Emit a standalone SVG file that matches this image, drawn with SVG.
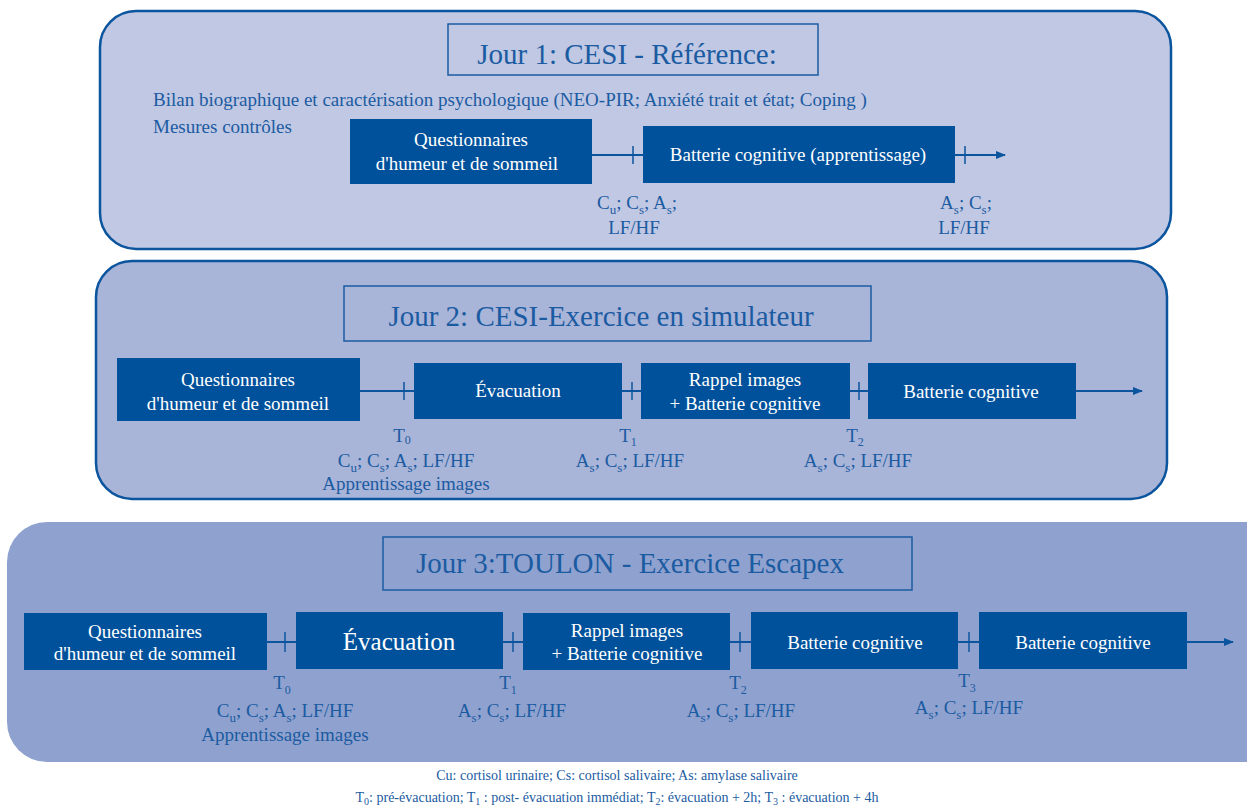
<svg xmlns="http://www.w3.org/2000/svg" width="1247" height="806" viewBox="0 0 1247 806" font-family="Liberation Serif, Times New Roman, serif">
<defs>
<marker id="arr" markerWidth="10" markerHeight="8" refX="9" refY="4" orient="auto" markerUnits="userSpaceOnUse">
<path d="M0,0 L10,4 L0,8 Z" fill="#0b549e"/>
</marker>
</defs>
<rect width="1247" height="806" fill="#ffffff"/>

<g id="panel1" fill="#1b5ba2" font-size="19">
<rect x="100" y="11" width="1071" height="238" rx="36" fill="#c1c8e3" stroke="#0b549e" stroke-width="2.5"/>
<rect x="448" y="24" width="370" height="51" fill="none" stroke="#1b5ba2" stroke-width="1.5"/>
<text x="627" y="64" font-size="29" text-anchor="middle" font-family="serif">Jour 1: CESI - Référence:</text>
<text x="153" y="106" font-family="serif">Bilan biographique et caractérisation psychologique (NEO-PIR; Anxiété trait et état; Coping )</text>
<text x="153" y="133" font-family="serif">Mesures contrôles</text>
</g>
<g id="panel2" fill="#1b5ba2">
<rect x="96" y="261" width="1071" height="238" rx="36" fill="#a8b4d8" stroke="#0b549e" stroke-width="2.5"/>
<rect x="344" y="286" width="527" height="55" fill="none" stroke="#1b5ba2" stroke-width="1.5"/>
<text x="601" y="326" font-size="29" text-anchor="middle" font-family="serif">Jour 2: CESI-Exercice en simulateur</text>
</g>
<g id="panel3" fill="#1b5ba2">
<rect x="7" y="522" width="1280" height="240" rx="40" fill="#8fa2cf"/>
<rect x="383" y="537" width="529" height="53" fill="none" stroke="#1b5ba2" stroke-width="1.5"/>
<text x="630" y="573" font-size="29" text-anchor="middle" font-family="serif">Jour 3:TOULON - Exercice Escapex</text>
</g>

<g id="connectors" stroke="#0b549e" fill="none">
<g stroke-width="2">
<line x1="592" y1="155" x2="643" y2="155"/>
<line x1="955" y1="155" x2="1005" y2="155" marker-end="url(#arr)"/>
<line x1="360" y1="391" x2="414" y2="391"/>
<line x1="622" y1="391" x2="641" y2="391"/>
<line x1="850" y1="391" x2="868" y2="391"/>
<line x1="1076" y1="391" x2="1142" y2="391" marker-end="url(#arr)"/>
<line x1="267" y1="642" x2="296" y2="642"/>
<line x1="503" y1="642" x2="523" y2="642"/>
<line x1="730" y1="642" x2="751" y2="642"/>
<line x1="958" y1="642" x2="979" y2="642"/>
<line x1="1187" y1="642" x2="1233" y2="642" marker-end="url(#arr)"/>
</g>
<g stroke-width="1.5">
<line x1="633" y1="146" x2="633" y2="164"/>
<line x1="965" y1="146" x2="965" y2="164"/>
<line x1="404" y1="382" x2="404" y2="400"/>
<line x1="632" y1="382" x2="632" y2="400"/>
<line x1="859" y1="382" x2="859" y2="400"/>
<line x1="285" y1="632" x2="285" y2="652"/>
<line x1="513" y1="632" x2="513" y2="652"/>
<line x1="740" y1="632" x2="740" y2="652"/>
<line x1="969" y1="632" x2="969" y2="652"/>
</g>
</g>

<g id="d1-questionnaires" fill="#ffffff" font-size="19" text-anchor="middle">
<rect x="350" y="119" width="242" height="65" fill="#00519b"/>
<text x="471" y="146" font-family="serif">Questionnaires</text>
<text x="467" y="170" font-family="serif">d'humeur et de sommeil</text>
</g>
<g id="d1-batterie" fill="#ffffff" font-size="19" text-anchor="middle">
<rect x="643" y="126" width="312" height="57" fill="#00519b"/>
<text x="798" y="161" font-family="serif">Batterie cognitive (apprentissage)</text>
</g>
<g id="d1-labels" fill="#1b5ba2" font-size="19" text-anchor="middle">
<text x="637" y="209" font-family="serif">C<tspan font-size="13" dy="5">u</tspan><tspan dy="-5">; C</tspan><tspan font-size="13" dy="5">s</tspan><tspan dy="-5">; A</tspan><tspan font-size="13" dy="5">s</tspan><tspan dy="-5">;</tspan></text>
<text x="634" y="234" font-family="serif">LF/HF</text>
<text x="966" y="209" font-family="serif">A<tspan font-size="13" dy="5">s</tspan><tspan dy="-5">; C</tspan><tspan font-size="13" dy="5">s</tspan><tspan dy="-5">;</tspan></text>
<text x="964" y="234" font-family="serif">LF/HF</text>
</g>

<g id="d2-questionnaires" fill="#ffffff" font-size="19" text-anchor="middle">
<rect x="117" y="358" width="243" height="63" fill="#00519b"/>
<text x="238" y="386" font-family="serif">Questionnaires</text>
<text x="238" y="410" font-family="serif">d'humeur et de sommeil</text>
</g>
<g id="d2-evacuation" fill="#ffffff" font-size="19" text-anchor="middle">
<rect x="414" y="363" width="208" height="56" fill="#00519b"/>
<text x="518" y="397" font-family="serif">Évacuation</text>
</g>
<g id="d2-rappel" fill="#ffffff" font-size="19" text-anchor="middle">
<rect x="641" y="363" width="209" height="56" fill="#00519b"/>
<text x="745" y="386" font-family="serif">Rappel images</text>
<text x="745" y="410" font-family="serif">+ Batterie cognitive</text>
</g>
<g id="d2-batterie" fill="#ffffff" font-size="19" text-anchor="middle">
<rect x="868" y="363" width="208" height="56" fill="#00519b"/>
<text x="971" y="398" font-family="serif">Batterie cognitive</text>
</g>
<g id="d2-labels" fill="#1b5ba2" font-size="19" text-anchor="middle">
<text x="402" y="442" font-family="serif">T<tspan font-size="12" dy="2">0</tspan></text>
<text x="406" y="467" font-family="serif">C<tspan font-size="13" dy="5">u</tspan><tspan dy="-5">; C</tspan><tspan font-size="13" dy="5">s</tspan><tspan dy="-5">; A</tspan><tspan font-size="13" dy="5">s</tspan><tspan dy="-5">; LF/HF</tspan></text>
<text x="406" y="490" font-family="serif">Apprentissage images</text>
<text x="628" y="442" font-family="serif">T<tspan font-size="12" dy="4">1</tspan></text>
<text x="630" y="467" font-family="serif">A<tspan font-size="13" dy="5">s</tspan><tspan dy="-5">; C</tspan><tspan font-size="13" dy="5">s</tspan><tspan dy="-5">; LF/HF</tspan></text>
<text x="855" y="442" font-family="serif">T<tspan font-size="12" dy="4">2</tspan></text>
<text x="858" y="467" font-family="serif">A<tspan font-size="13" dy="5">s</tspan><tspan dy="-5">; C</tspan><tspan font-size="13" dy="5">s</tspan><tspan dy="-5">; LF/HF</tspan></text>
</g>

<g id="d3-questionnaires" fill="#ffffff" font-size="19" text-anchor="middle">
<rect x="24" y="613" width="243" height="57" fill="#00519b"/>
<text x="145" y="638" font-family="serif">Questionnaires</text>
<text x="145" y="660" font-family="serif">d'humeur et de sommeil</text>
</g>
<g id="d3-evacuation" fill="#ffffff" font-size="25" text-anchor="middle">
<rect x="296" y="612" width="207" height="57" fill="#00519b"/>
<text x="399" y="650" font-family="serif">Évacuation</text>
</g>
<g id="d3-rappel" fill="#ffffff" font-size="19" text-anchor="middle">
<rect x="523" y="613" width="207" height="57" fill="#00519b"/>
<text x="627" y="637" font-family="serif">Rappel images</text>
<text x="627" y="660" font-family="serif">+ Batterie cognitive</text>
</g>
<g id="d3-batterie1" fill="#ffffff" font-size="19" text-anchor="middle">
<rect x="751" y="612" width="207" height="57" fill="#00519b"/>
<text x="855" y="649" font-family="serif">Batterie cognitive</text>
</g>
<g id="d3-batterie2" fill="#ffffff" font-size="19" text-anchor="middle">
<rect x="979" y="612" width="208" height="57" fill="#00519b"/>
<text x="1083" y="649" font-family="serif">Batterie cognitive</text>
</g>
<g id="d3-labels" fill="#1b5ba2" font-size="19" text-anchor="middle">
<text x="282" y="689" font-family="serif">T<tspan font-size="12" dy="5">0</tspan></text>
<text x="285" y="717" font-family="serif">C<tspan font-size="13" dy="5">u</tspan><tspan dy="-5">; C</tspan><tspan font-size="13" dy="5">s</tspan><tspan dy="-5">; A</tspan><tspan font-size="13" dy="5">s</tspan><tspan dy="-5">; LF/HF</tspan></text>
<text x="285" y="741" font-family="serif">Apprentissage images</text>
<text x="508" y="689" font-family="serif">T<tspan font-size="12" dy="5">1</tspan></text>
<text x="512" y="717" font-family="serif">A<tspan font-size="13" dy="5">s</tspan><tspan dy="-5">; C</tspan><tspan font-size="13" dy="5">s</tspan><tspan dy="-5">; LF/HF</tspan></text>
<text x="738" y="689" font-family="serif">T<tspan font-size="12" dy="5">2</tspan></text>
<text x="741" y="717" font-family="serif">A<tspan font-size="13" dy="5">s</tspan><tspan dy="-5">; C</tspan><tspan font-size="13" dy="5">s</tspan><tspan dy="-5">; LF/HF</tspan></text>
<text x="967" y="687" font-family="serif">T<tspan font-size="12" dy="5">3</tspan></text>
<text x="969" y="714" font-family="serif">A<tspan font-size="13" dy="5">s</tspan><tspan dy="-5">; C</tspan><tspan font-size="13" dy="5">s</tspan><tspan dy="-5">; LF/HF</tspan></text>
</g>

<g id="footer" fill="#1b5ba2" font-size="14" text-anchor="middle">
<text x="617" y="780" font-family="serif">Cu: cortisol urinaire; Cs: cortisol salivaire; As: amylase salivaire</text>
<text x="617" y="802" font-family="serif">T<tspan font-size="10" dy="3">0</tspan><tspan dy="-3">: pré-évacuation; T</tspan><tspan font-size="10" dy="3">1</tspan><tspan dy="-3"> : post- évacuation immédiat; T</tspan><tspan font-size="10" dy="3">2</tspan><tspan dy="-3">: évacuation + 2h; T</tspan><tspan font-size="10" dy="3">3</tspan><tspan dy="-3"> : évacuation + 4h</tspan></text>
</g>
</svg>
